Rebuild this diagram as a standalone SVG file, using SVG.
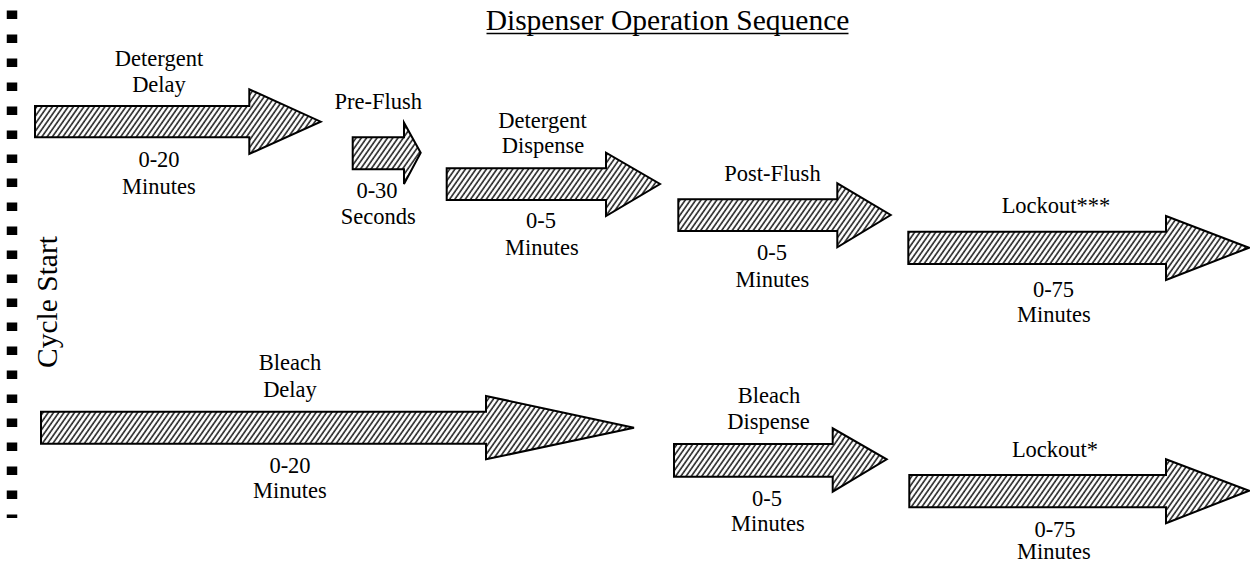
<svg xmlns="http://www.w3.org/2000/svg" width="1250" height="565" viewBox="0 0 1250 565" font-family="'Liberation Serif', 'Times New Roman', serif">
  <style>
    .title { font-family: "Liberation Serif", "Times New Roman", serif; font-size: 29.5px; text-anchor: middle; fill: #000; }
    .arrow { fill: url(#hatch); stroke: #000; stroke-width: 2; stroke-linejoin: miter; }
  </style>
  <defs>
    <pattern id="hatch" patternUnits="userSpaceOnUse" width="4.3" height="10" patternTransform="rotate(35)">
      <rect x="0" y="0" width="4.3" height="10" fill="#fff"/>
      <line x1="1" y1="-1" x2="1" y2="11" stroke="#222" stroke-width="1.6"/>
    </pattern>
  </defs>
  <rect x="0" y="0" width="1250" height="565" fill="#fff"/>

  <g id="title">
    <text class="title" x="667.5" y="29.5">Dispenser Operation Sequence</text>
    <line x1="486.5" y1="33.5" x2="848.5" y2="33.5" stroke="#000" stroke-width="1.6"/>
  </g>

  <g id="cycle-start">
    <line x1="12" y1="10.5" x2="12" y2="518" stroke="#000" stroke-width="10.5" stroke-dasharray="8.5 15.5"/>
    <text class="title" transform="translate(57,302) rotate(-90)" x="0" y="0">Cycle Start</text>
  </g>

  <g id="detergent-delay">
    <polygon class="arrow" points="35,106 249.3,106 249.3,89.3 320.7,121.7 249.3,154 249.3,137.3 35,137.3"/>
    <text class="title" style="font-size:22.5px" x="159" y="65.7">Detergent</text>
    <text class="title" style="font-size:22.5px" x="159" y="91.7">Delay</text>
    <text class="title" style="font-size:22.5px" x="159" y="167.3">0-20</text>
    <text class="title" style="font-size:22.5px" x="159" y="194">Minutes</text>
  </g>

  <g id="pre-flush">
    <polygon class="arrow" points="352.7,137.3 404,137.3 404,122.7 420.7,152.7 404,184 404,169.3 352.7,169.3"/>
    <text class="title" style="font-size:22.5px" x="378.3" y="109.3">Pre-Flush</text>
    <text class="title" style="font-size:22.5px" x="377" y="198.3">0-30</text>
    <text class="title" style="font-size:22.5px" x="378.3" y="224">Seconds</text>
  </g>

  <g id="detergent-dispense">
    <polygon class="arrow" points="446.7,168.3 606,168.3 606,152.7 660,184 606,216 606,200 446.7,200"/>
    <text class="title" style="font-size:22.5px" x="542.5" y="128.3">Detergent</text>
    <text class="title" style="font-size:22.5px" x="543" y="153.3">Dispense</text>
    <text class="title" style="font-size:22.5px" x="541" y="228.3">0-5</text>
    <text class="title" style="font-size:22.5px" x="542" y="255">Minutes</text>
  </g>

  <g id="post-flush">
    <polygon class="arrow" points="678.3,199.3 837.3,199.3 837.3,183.3 890.7,215 837.3,247.3 837.3,231 678.3,231"/>
    <text class="title" style="font-size:22.5px" x="772.5" y="180.7">Post-Flush</text>
    <text class="title" style="font-size:22.5px" x="772" y="260">0-5</text>
    <text class="title" style="font-size:22.5px" x="772.5" y="286.7">Minutes</text>
  </g>

  <g id="lockout-3">
    <polygon class="arrow" points="908.3,231.7 1166,231.7 1166,216 1249,247.7 1166,280 1166,264 908.3,264"/>
    <text class="title" style="font-size:22.5px" x="1056" y="213.3">Lockout***</text>
    <text class="title" style="font-size:22.5px" x="1053.5" y="296.7">0-75</text>
    <text class="title" style="font-size:22.5px" x="1054" y="321.7">Minutes</text>
  </g>

  <g id="bleach-delay">
    <polygon class="arrow" points="41,411.7 486,411.7 486,396 634,427.7 486,459.3 486,443.7 41,443.7"/>
    <text class="title" style="font-size:22.5px" x="290" y="370">Bleach</text>
    <text class="title" style="font-size:22.5px" x="290" y="396.7">Delay</text>
    <text class="title" style="font-size:22.5px" x="290" y="473">0-20</text>
    <text class="title" style="font-size:22.5px" x="290" y="497.5">Minutes</text>
  </g>

  <g id="bleach-dispense">
    <polygon class="arrow" points="674,444 832.7,444 832.7,428.3 886.7,459.3 832.7,491.7 832.7,476.7 674,476.7"/>
    <text class="title" style="font-size:22.5px" x="769" y="402.7">Bleach</text>
    <text class="title" style="font-size:22.5px" x="768.5" y="429.3">Dispense</text>
    <text class="title" style="font-size:22.5px" x="767" y="506">0-5</text>
    <text class="title" style="font-size:22.5px" x="768" y="530.7">Minutes</text>
  </g>

  <g id="lockout-1">
    <polygon class="arrow" points="909.3,475 1166,475 1166,459.3 1249,490.7 1166,523.3 1166,507.3 909.3,507.3"/>
    <text class="title" style="font-size:22.5px" x="1055" y="456.7">Lockout*</text>
    <text class="title" style="font-size:22.5px" x="1055" y="536.7">0-75</text>
    <text class="title" style="font-size:22.5px" x="1054" y="559.3">Minutes</text>
  </g>
</svg>
